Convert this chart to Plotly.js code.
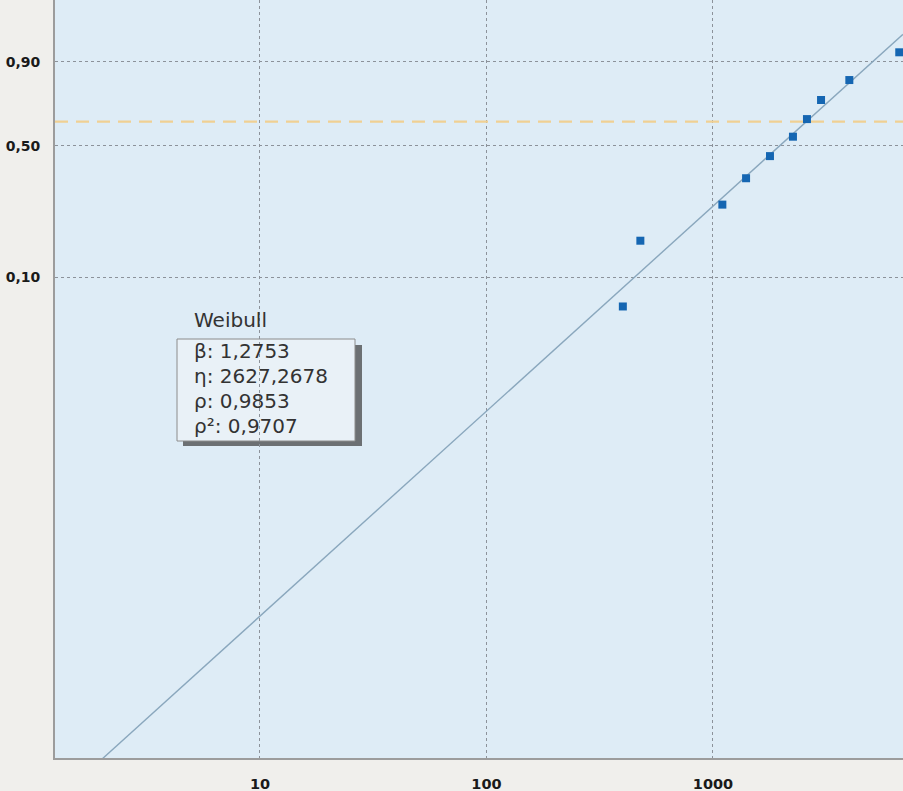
<!DOCTYPE html>
<html>
<head>
<meta charset="utf-8">
<script src="https://cdn.plot.ly/plotly-3.0.1.min.js"></script>
<style>html,body{margin:0;padding:0;background:#f0efec;}#chart{width:903px;height:791px;}</style>
</head>
<body>
<div id="chart"></div>
<script>
// Data
const timeValues = [400, 478, 1100, 1400, 1785, 2255, 2600, 3000, 4000, 6645];
const unreliability = [0.067, 0.163, 0.258, 0.353, 0.450, 0.546, 0.638, 0.737, 0.831, 0.929];
const yTickProbs = [0.10, 0.50, 0.90];
const yTickLabels = ['0,10', '0,50', '0,90'];
const xTickVals = [10, 100, 1000];
const xTickLabels = ['10', '100', '1000'];
const beta = 1.2753;
const eta = 2627.2678;
const refProb = 0.625;
const statTitle = 'Weibull';
const statLabels = ['β: 1,2753', 'η: 2627,2678', 'ρ: 0,9853', 'ρ²: 0,9707'];

const xLogRange = [0.095, 3.839];
const yRange = [-9.137, 1.722];

const weib = p => Math.log(-Math.log(1 - p));

const lineT = [Math.pow(10, xLogRange[0]), Math.pow(10, xLogRange[1])];
const lineY = lineT.map(t => beta * (Math.log(t) - Math.log(eta)));

const traces = [
  {
    x: lineT, y: lineY, mode: 'lines', type: 'scatter',
    line: {color: '#8aa7bd', width: 1.4}, hoverinfo: 'skip', showlegend: false
  },
  {
    x: timeValues, y: unreliability.map(weib), mode: 'markers', type: 'scatter',
    marker: {symbol: 'square', size: 8, color: '#1566b2'}, showlegend: false
  }
];

const PL = 55, PW = 848, PH = 758;
const px = v => (v - PL) / PW;
const py = v => 1 - v / PH;

const annotations = [{
  xref: 'paper', yref: 'paper', x: px(192), y: py(320), xanchor: 'left', yanchor: 'middle',
  text: statTitle, showarrow: false, font: {family: 'DejaVu Sans', size: 20, color: '#333'}
}];
const lineYs = [351, 376, 401, 426];
statLabels.forEach((s, i) => annotations.push({
  xref: 'paper', yref: 'paper', x: px(192), y: py(lineYs[i]), xanchor: 'left', yanchor: 'middle',
  text: s, showarrow: false, font: {family: 'DejaVu Sans', size: 20, color: '#333'}
}));

const shapes = [
  {type: 'rect', xref: 'paper', yref: 'paper', x0: px(183), x1: px(362), y0: py(446), y1: py(345),
   fillcolor: 'rgba(60,60,60,0.7)', line: {width: 0}, layer: 'below'},
  {type: 'rect', xref: 'paper', yref: 'paper', x0: px(177), x1: px(355), y0: py(441), y1: py(339),
   fillcolor: '#e9f1f7', line: {color: '#8c8c8c', width: 1}, layer: 'below'},
  {type: 'line', xref: 'paper', yref: 'y', x0: 0, x1: 1, y0: weib(refProb), y1: weib(refProb),
   line: {color: '#f0d093', width: 2.2, dash: '13px,8px'}}
];

const layout = {
  width: 903, height: 791,
  margin: {l: PL, r: 0, t: 0, b: 33},
  paper_bgcolor: '#f0efec',
  plot_bgcolor: '#deecf6',
  xaxis: {
    type: 'log', range: xLogRange,
    tickvals: xTickVals, ticktext: xTickLabels,
    showgrid: true, gridcolor: '#8c929a', griddash: 'dot', gridwidth: 1,
    zeroline: false, showline: true, linecolor: '#9c9c9c', linewidth: 2,
    ticks: '', ticklabelstandoff: 12,
    tickfont: {family: 'DejaVu Sans', size: 14.5, color: '#1a1a1a', weight: 'bold'}
  },
  yaxis: {
    range: yRange,
    tickvals: yTickProbs.map(weib), ticktext: yTickLabels,
    showgrid: true, gridcolor: '#8c929a', griddash: 'dot', gridwidth: 1,
    zeroline: false, showline: true, linecolor: '#9c9c9c', linewidth: 2,
    ticks: '', ticklabelstandoff: 10,
    tickfont: {family: 'DejaVu Sans', size: 14, color: '#1a1a1a', weight: 'bold'}
  },
  shapes: shapes,
  annotations: annotations
};

Plotly.newPlot('chart', traces, layout, {displayModeBar: false, staticPlot: true});
</script>
</body>
</html>
